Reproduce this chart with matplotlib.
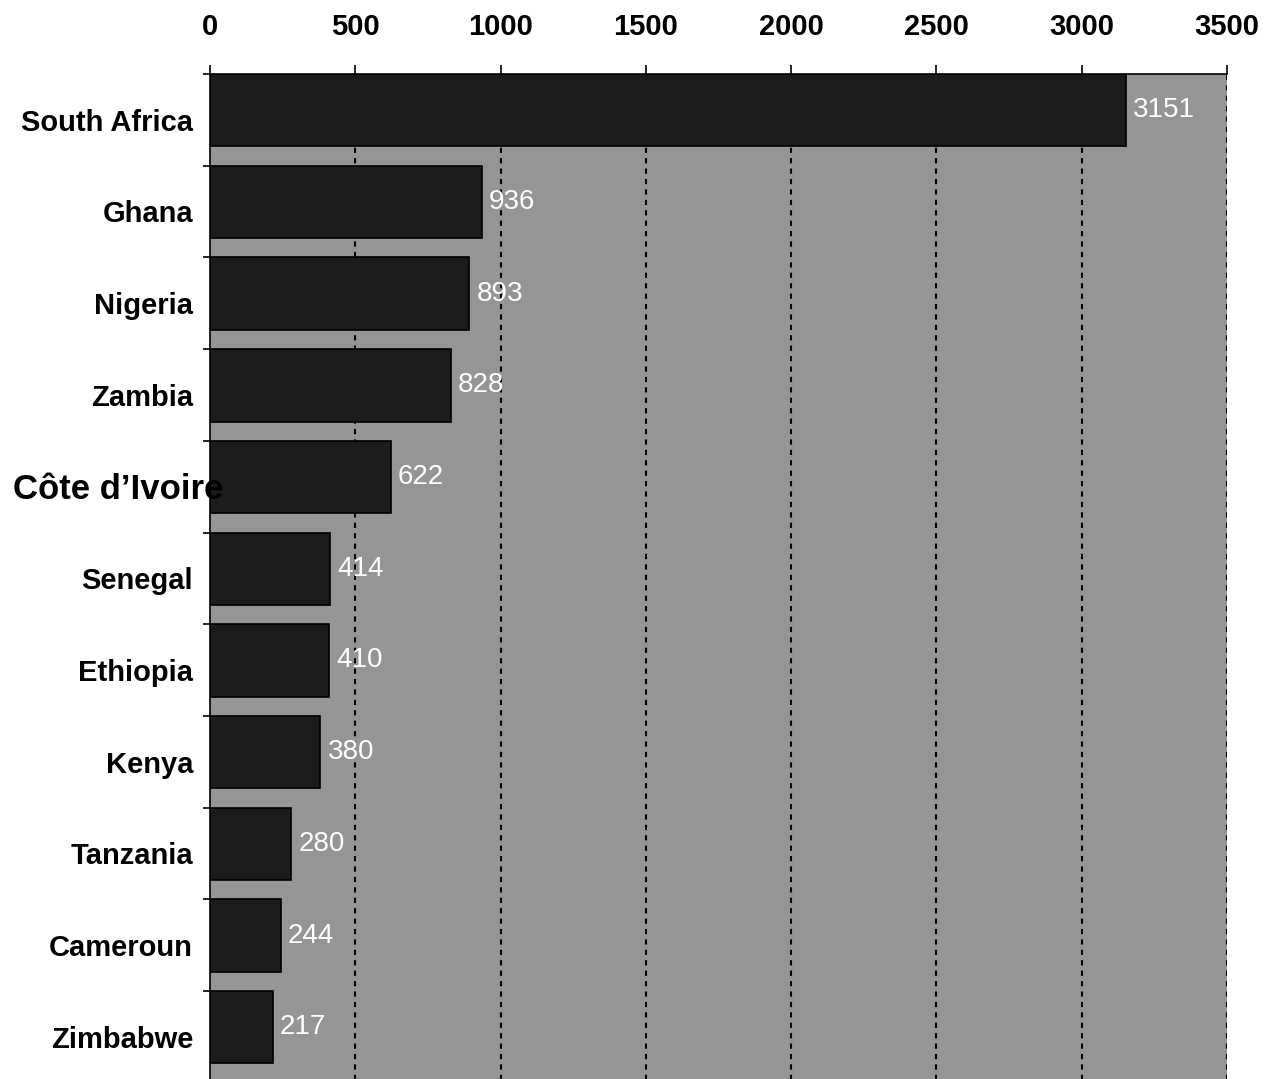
import matplotlib
matplotlib.use("Agg")
import matplotlib.pyplot as plt
import matplotlib.transforms as mtransforms

countries = ["South Africa", "Ghana", "Nigeria", "Zambia", "Côte d’Ivoire", "Senegal",
             "Ethiopia", "Kenya", "Tanzania", "Cameroun", "Zimbabwe"]
values = [3151, 936, 893, 828, 622, 414, 410, 380, 280, 244, 217]
xticks = [0, 500, 1000, 1500, 2000, 2500, 3000, 3500]

font = "Liberation Sans"

fig = plt.figure(figsize=(12.82, 10.79), dpi=100)
ax = fig.add_axes([210/1282, 1 - 74/1079 - 11*91.7/1079, 1017/1282, 11*91.7/1079])
ax.set_facecolor("#959595")

bar_h = 0.79
ys = [i + bar_h/2 for i in range(len(countries))]
ax.barh(ys, values, height=bar_h, color="#1c1c1c", edgecolor="black", linewidth=1.2, zorder=3)

ax.set_xlim(0, 3500)
ax.set_ylim(len(countries), 0)

for x in xticks[1:]:
    ax.axvline(x, color="black", linestyle=(0, (2.5, 2.5)), linewidth=1.5, zorder=1)

ax.xaxis.tick_top()
ax.set_xticks(xticks)
ax.set_xticklabels([str(t) for t in xticks], fontfamily=font, fontweight="bold", fontsize=21)
ax.tick_params(axis="x", direction="out", length=6.5, width=1.2, pad=17, top=True, bottom=False)

ax.set_yticks(list(range(len(countries))))
ax.set_yticklabels([])
ax.tick_params(axis="y", direction="out", length=5, width=1.2)

for s in ["right", "bottom"]:
    ax.spines[s].set_visible(False)
for s in ["top", "left"]:
    ax.spines[s].set_linewidth(1.2)
    ax.spines[s].set_color("black")
    ax.spines[s].set_zorder(5)

trans = mtransforms.blended_transform_factory(ax.transAxes, ax.transData)
for i, name in enumerate(countries):
    if name.startswith("Côte"):
        off = mtransforms.ScaledTranslation(13/100, 0, fig.dpi_scale_trans)
        ax.text(0, i + 0.53, name, transform=trans + off, ha="right", va="center",
                fontfamily=font, fontweight="bold", fontsize=25, zorder=6)
    else:
        off = mtransforms.ScaledTranslation(-17/100, 0, fig.dpi_scale_trans)
        ax.text(0, i + 0.53, name, transform=trans + off, ha="right", va="center",
                fontfamily=font, fontweight="bold", fontsize=21)

voff = mtransforms.ScaledTranslation(7/100, 0, fig.dpi_scale_trans)
for y, v in zip(ys, values):
    ax.text(v, y, str(v), transform=ax.transData + voff, ha="left", va="center",
            color="white", fontfamily=font, fontsize=20, zorder=6)

fig.savefig("out.png", dpi=100)
